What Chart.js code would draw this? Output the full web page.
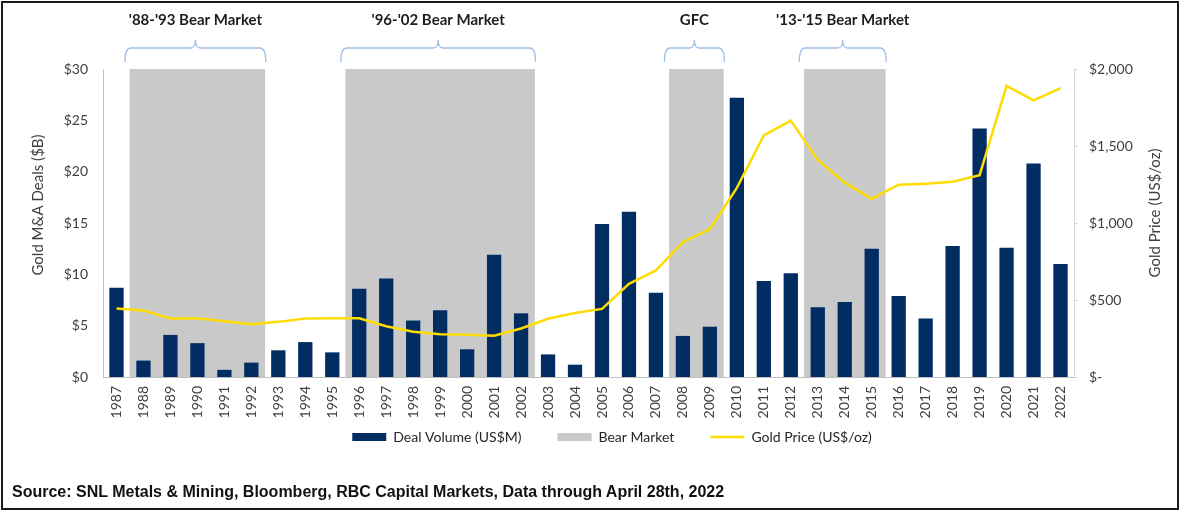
<!DOCTYPE html>
<html>
<head>
<meta charset="utf-8">
<script src="https://cdn.jsdelivr.net/npm/chart.js@4.4.1/dist/chart.umd.min.js"></script>
<style>
  html, body { margin: 0; padding: 0; background: #fff; }
  #wrap { position: relative; width: 1180px; height: 512px; overflow: hidden; }
  #c { position: absolute; left: 0; top: 0; }
  #frame { position: absolute; left: 1px; top: 1px; width: 1174px; height: 505px; border: 2px solid #1a1a1a; pointer-events: none; }
  #source { position: absolute; left: 12px; top: 483px; color: #111; white-space: nowrap;
            font: bold 16px "Liberation Sans Narrow", "Liberation Sans", Arial, sans-serif; }
</style>
</head>
<body>
<div id="wrap">
  <canvas id="c" width="1180" height="484"></canvas>
  <div id="frame"></div>
  <div id="source">Source: SNL Metals &amp; Mining, Bloomberg, RBC Capital Markets, Data through April 28th, 2022</div>
</div>
<script>
/* ---------- data ---------- */
const YEARS = ['1987','1988','1989','1990','1991','1992','1993','1994','1995','1996','1997','1998',
               '1999','2000','2001','2002','2003','2004','2005','2006','2007','2008','2009','2010',
               '2011','2012','2013','2014','2015','2016','2017','2018','2019','2020','2021','2022'];

// Gold M&A deal volume ($B)
const DEAL_VOLUME = [8.7, 1.6, 4.1, 3.3, 0.7, 1.4, 2.6, 3.4, 2.4, 8.6, 9.6, 5.5,
                     6.5, 2.7, 11.9, 6.2, 2.2, 1.2, 14.9, 16.1, 8.2, 4.0, 4.9, 27.2,
                     9.35, 10.1, 6.8, 7.3, 12.5, 7.9, 5.7, 12.75, 24.2, 12.6, 20.8, 11.0];

// Gold price (US$/oz)
const GOLD_PRICE = [445, 432, 380, 381, 362, 343, 358, 380, 381, 381, 330, 294,
                    278, 275, 268, 315, 378, 415, 442, 605, 692, 875, 960, 1228,
                    1568, 1665, 1410, 1262, 1157, 1249, 1255, 1268, 1311, 1890, 1796, 1876];

// shaded bear market years (full height of the left axis)
const BEAR_MARKET = [null, 30, 30, 30, 30, 30, null, null, null, 30, 30, 30,
                     30, 30, 30, 30, null, null, null, null, null, 30, 30, null,
                     null, null, 30, 30, 30, null, null, null, null, null, null, null];

const BEAR_TITLES = ["'88-'93 Bear Market", "'96-'02 Bear Market", 'GFC', "'13-'15 Bear Market"];
const BEAR_FROM   = ['1988', '1996', '2008', '2013'];
const BEAR_TO     = ['1992', '2002', '2009', '2015'];

/* ---------- colours ---------- */
const NAVY   = '#012d62';
const GREY   = '#c9c9c9';
const YELLOW = '#ffdc00';
const BRACE  = '#9fbde6';
const TEXT   = '#404040';

Chart.defaults.font.family = 'Lato, "Open Sans", sans-serif';
Chart.defaults.color = TEXT;

/* brackets + titles above the shaded periods, and both axis titles */
const annotations = {
  id: 'annotations',
  afterLayout(chart) {
    // legend sits closer to the axis than its item padding would allow
    chart.legend.top -= 26;
    chart.legend.bottom -= 26;
  },
  afterDraw(chart) {
    const { ctx, scales: { x } } = chart;
    const half = (x.getPixelForValue(1) - x.getPixelForValue(0)) / 2;
    ctx.save();

    ctx.font = 'bold 15px Lato, sans-serif';
    ctx.textAlign = 'center';
    ctx.textBaseline = 'middle';
    BEAR_TITLES.forEach((title, i) => {
      const x0 = x.getPixelForValue(YEARS.indexOf(BEAR_FROM[i])) - half - 5;
      const x1 = x.getPixelForValue(YEARS.indexOf(BEAR_TO[i])) + half + 1;
      const xm = (x0 + x1) / 2;
      const yb = 62, yl = 48, yt = 40;

      ctx.strokeStyle = BRACE;
      ctx.lineWidth = 1.3;
      ctx.beginPath();
      ctx.moveTo(x0, yb);
      ctx.quadraticCurveTo(x0, yl, x0 + 6, yl);
      ctx.lineTo(xm - 5, yl);
      ctx.quadraticCurveTo(xm, yl, xm, yt);
      ctx.quadraticCurveTo(xm, yl, xm + 5, yl);
      ctx.lineTo(x1 - 6, yl);
      ctx.quadraticCurveTo(x1, yl, x1, yb);
      ctx.stroke();

      ctx.fillStyle = '#1e1e1e';
      ctx.fillText(title, xm, 20);
    });

    // axis titles
    ctx.font = '15px Lato, sans-serif';
    ctx.fillStyle = TEXT;
    ctx.translate(38, 205);
    ctx.rotate(-Math.PI / 2);
    ctx.fillText('Gold M&A Deals ($B)', 0, 0);
    ctx.setTransform(1, 0, 0, 1, 0, 0);
    ctx.translate(1155, 213);
    ctx.rotate(-Math.PI / 2);
    ctx.fillText('Gold Price (US$/oz)', 0, 0);
    ctx.restore();
  }
};

new Chart(document.getElementById('c'), {
  data: {
    labels: YEARS,
    datasets: [
      {
        type: 'bar',
        label: 'Deal Volume (US$M)',
        data: DEAL_VOLUME,
        backgroundColor: NAVY,
        borderWidth: 0,
        barPercentage: 0.53,
        categoryPercentage: 1,
        yAxisID: 'y',
        order: 2,
      },
      {
        type: 'bar',
        label: 'Bear Market',
        data: BEAR_MARKET,
        backgroundColor: GREY,
        borderWidth: 0,
        barPercentage: 1,
        categoryPercentage: 1,
        grouped: false,
        yAxisID: 'y',
        order: 3,
      },
      {
        type: 'line',
        label: 'Gold Price (US$/oz)',
        data: GOLD_PRICE,
        borderColor: YELLOW,
        backgroundColor: YELLOW,
        borderWidth: 2.5,
        pointRadius: 0,
        tension: 0,
        yAxisID: 'y1',
        order: 1,
      },
    ]
  },
  options: {
    responsive: false,
    animation: false,
    layout: { padding: { left: 44, right: 0, top: 69, bottom: 4 } },
    plugins: {
      tooltip: { enabled: false },
      legend: {
        position: 'bottom',
        labels: {
          usePointStyle: true,
          pointStyleWidth: 34,
          boxHeight: 8,
          padding: 36,
          color: '#262626',
          font: { size: 14 },
          generateLabels(chart) {
            const items = Chart.defaults.plugins.legend.labels.generateLabels(chart);
            items.forEach(it => { it.pointStyle = it.datasetIndex === 2 ? 'line' : 'rect'; });
            return items.sort((a, b) => a.datasetIndex - b.datasetIndex);
          }
        }
      }
    },
    scales: {
      x: {
        grid: { display: false, drawTicks: false },
        border: { color: '#bfbfbf' },
        ticks: { autoSkip: false, minRotation: 90, maxRotation: 90, padding: 9, font: { size: 14 } },
        afterFit: s => { s.height = 43; }
      },
      y: {
        position: 'left',
        min: 0, max: 30,
        grid: { display: false, drawTicks: false },
        border: { color: '#bfbfbf' },
        ticks: { stepSize: 5, padding: 15, font: { size: 14 }, callback: v => '$' + v },
        afterFit: s => { s.width = 59; }
      },
      y1: {
        position: 'right',
        min: 0, max: 2000,
        grid: { display: true, drawOnChartArea: false, drawTicks: true, tickLength: 4, color: '#d6d6d6' },
        border: { color: '#d6d6d6' },
        ticks: { stepSize: 500, padding: 11, font: { size: 14 },
                 callback: v => v === 0 ? '$-' : '$' + v.toLocaleString('en-US') },
        afterFit: s => { s.width = 106; }
      }
    }
  },
  plugins: [annotations]
});
</script>
</body>
</html>
